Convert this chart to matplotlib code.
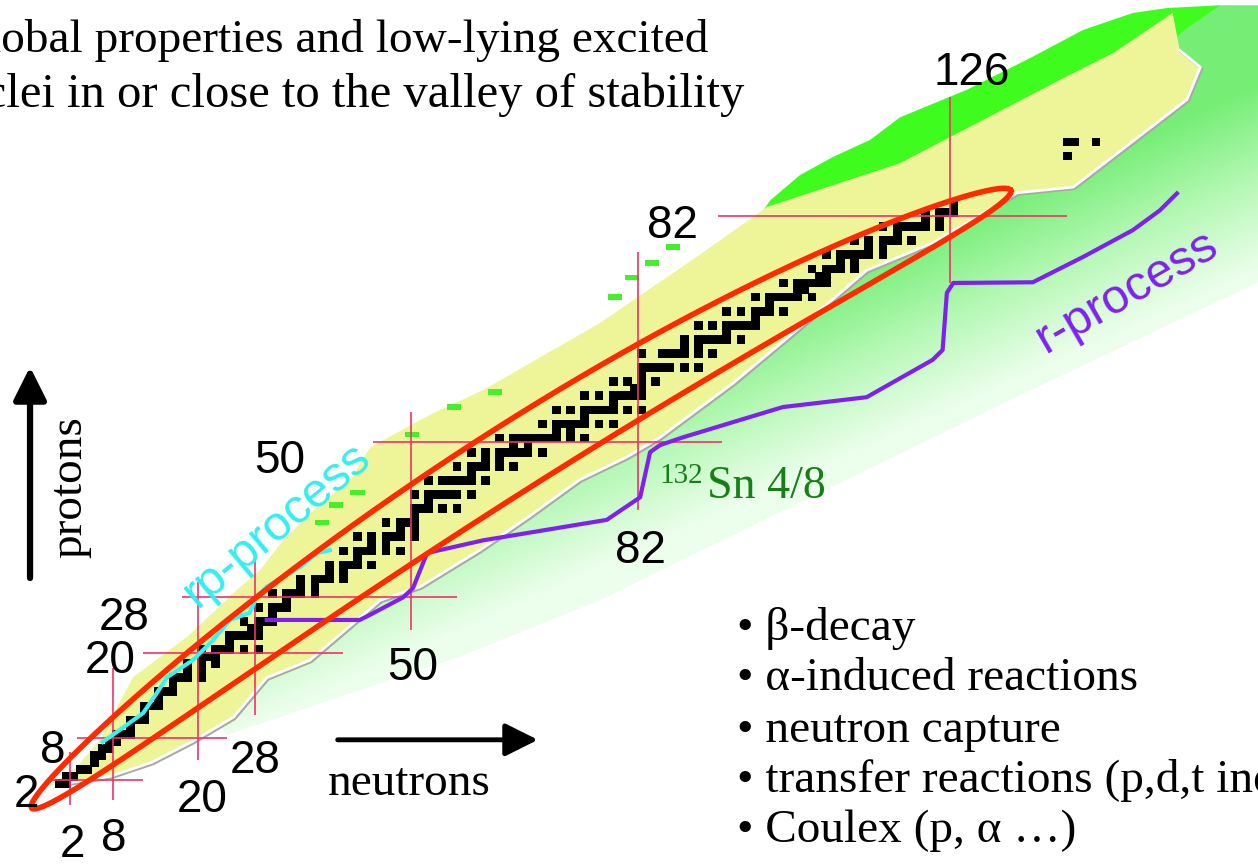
import numpy as np
import matplotlib
matplotlib.use('Agg')
import matplotlib.pyplot as plt
from matplotlib.colors import LinearSegmentedColormap
from matplotlib.patches import Polygon
from matplotlib.transforms import offset_copy

# stable (and primordial long-lived) nuclides: proton number -> mass numbers
stable_A = {
    1: [1, 2], 2: [3, 4], 3: [6, 7], 4: [9], 5: [10, 11], 6: [12, 13], 7: [14, 15],
    8: [16, 17, 18], 9: [19], 10: [20, 21, 22], 11: [23], 12: [24, 25, 26], 13: [27],
    14: [28, 29, 30], 15: [31], 16: [32, 33, 34, 36], 17: [35, 37], 18: [36, 38, 40],
    19: [39, 40, 41], 20: [40, 42, 43, 44, 46, 48], 21: [45], 22: [46, 47, 48, 49, 50],
    23: [50, 51], 24: [50, 52, 53, 54], 25: [55], 26: [54, 56, 57, 58], 27: [59],
    28: [58, 60, 61, 62, 64], 29: [63, 65], 30: [64, 66, 67, 68, 70], 31: [69, 71],
    32: [70, 72, 73, 74, 76], 33: [75], 34: [74, 76, 77, 78, 80, 82], 35: [79, 81],
    36: [78, 80, 82, 83, 84, 86], 37: [85, 87], 38: [84, 86, 87, 88], 39: [89],
    40: [90, 91, 92, 94, 96], 41: [93], 42: [92, 94, 95, 96, 97, 98, 100],
    44: [96, 98, 99, 100, 101, 102, 104], 45: [103], 46: [102, 104, 105, 106, 108, 110],
    47: [107, 109], 48: [106, 108, 110, 111, 112, 113, 114, 116], 49: [113, 115],
    50: [112, 114, 115, 116, 117, 118, 119, 120, 122, 124], 51: [121, 123],
    52: [120, 122, 123, 124, 125, 126, 128, 130], 53: [127],
    54: [124, 126, 128, 129, 130, 131, 132, 134, 136], 55: [133],
    56: [130, 132, 134, 135, 136, 137, 138], 57: [138, 139], 58: [136, 138, 140, 142],
    59: [141], 60: [142, 143, 144, 145, 146, 148, 150], 62: [144, 147, 148, 149, 150, 152, 154],
    63: [151, 153], 64: [152, 154, 155, 156, 157, 158, 160], 65: [159],
    66: [156, 158, 160, 161, 162, 163, 164], 67: [165], 68: [162, 164, 166, 167, 168, 170],
    69: [169], 70: [168, 170, 171, 172, 173, 174, 176], 71: [175, 176],
    72: [174, 176, 177, 178, 179, 180], 73: [180, 181], 74: [180, 182, 183, 184, 186],
    75: [185, 187], 76: [184, 186, 187, 188, 189, 190, 192], 77: [191, 193],
    78: [190, 192, 194, 195, 196, 198], 79: [197], 80: [196, 198, 199, 200, 201, 202, 204],
    81: [203, 205], 82: [204, 206, 207, 208], 83: [209], 90: [232], 92: [234, 235, 238],
}

# magic numbers and the extent of their guide lines
magic_N = [2, 8, 20, 28, 50, 82, 126]
magic_N_zlo = [-1.5, -0.8, 4.8, 11.2, 23.3, 40.3, 72.5]
magic_N_zhi = [6.0, 17.9, 30.1, 33.5, 54.2, 76.9, 98.9]
magic_Z = [2, 8, 20, 28, 50, 82]
magic_Z_nlo = [-0.8, 3.0, 12.3, 17.8, 44.7, 93.3]
magic_Z_nhi = [12.3, 24.1, 40.4, 56.5, 93.8, 142.4]

magic_text = ['126', '82', '50', '28', '20', '8', '2', '2', '8', '20', '28', '50', '82']
magic_text_N = [129.0, 86.8, 31.6, 9.6, 7.6, -0.5, -4.2, 2.3, 8.1, 20.6, 28.1, 50.2, 82.4]
magic_text_Z = [100.6, 78.9, 45.5, 23.3, 17.2, 4.4, -1.8, -8.9, -8.1, -2.5, 3.0, 16.2, 32.8]

# known nuclei (yellow band) edges
top_N = [-0.8, 3.0, 6.2, 10.9, 18.5, 25.0, 28.8, 32.0, 36.8, 41.4, 44.3, 53.1, 60.2,
         76.6, 90.7, 100.2, 118.9, 141.4, 148.9, 157.3]
top_Z = [1.3, 3.9, 7.7, 16.6, 22.3, 28.5, 31.8, 36.0, 40.7, 44.5, 49.2, 54.0, 57.3,
         66.8, 76.5, 83.3, 89.5, 101.3, 105.1, 110.8]
bot_N = [-0.1, 7.6, 13.5, 19.3, 25.0, 29.7, 35.8, 45.7, 51.3, 59.7, 66.4, 73.8, 80.4,
         85.1, 95.4, 104.8, 114.2, 123.5, 128.3, 135.4, 143.3, 151.3, 159.3, 161.2, 158.3]
bot_Z = [1.3, 2.5, 4.5, 7.5, 10.9, 16.5, 19.0, 27.5, 29.4, 34.6, 39.2, 44.6, 47.8,
         50.6, 58.3, 66.2, 74.3, 78.2, 81.0, 85.3, 86.1, 92.3, 98.5, 103.1, 105.5]

# isolated proton-rich cells beyond the band edge
speck_N = [36.5, 38.5, 41.5, 49.2, 55.1, 60.9, 77.8, 80.2, 83.0, 85.9]
speck_Z = [38.1, 40.6, 42.4, 50.6, 54.5, 56.6, 70.1, 72.9, 74.9, 77.2]

# predicted nuclei (green) regions
green_N = [24.1, 22.4, 27.4, 76.6, 100.2, 157.9, 164.0, 175, 175, 169.3, 134.4, 76.6, 56.9]
green_Z = [8.4, 10.5, 21.9, 58.7, 82.1, 109.8, 111.9, 111.9, 75.3, 72.6, 55.9, 27.5, 19.5]
bright_N = [99.2, 100.6, 104.8, 109.5, 114.7, 118.9, 128.3, 137.6, 144.7, 151.7, 156.5,
            164.0, 159.0, 147.1, 118.9, 99.2]
bright_Z = [82.1, 84.2, 87.8, 90.4, 92.8, 96.0, 99.9, 104.6, 108.4, 110.8, 111.5,
            111.9, 108.4, 98.4, 84.3, 81.4]

# process paths
r_N = [29.7, 42.8, 44.2, 48.9, 50.3, 52.3, 60.2, 77.6, 82.3, 83.7, 85.1, 88.3, 102.4,
       114.2, 123.5, 124.9, 125.5, 126.4, 137.6, 144.7, 151.7, 155.5, 157.9]
r_Z = [24.7, 24.7, 25.4, 27.9, 29.2, 34.2, 36.0, 38.9, 42.1, 48.5, 49.5, 50.6, 54.9,
       56.3, 61.6, 63.0, 71.1, 72.5, 72.6, 76.2, 80.0, 82.8, 85.2]
rp_N = [6.6, 9.0, 12.3, 14.2, 15.7, 19.3, 22.1, 24.5, 27.3, 28.3, 29.7, 32.0, 34.4, 36.8, 38.6]
rp_Z = [7.4, 9.1, 11.5, 14.3, 16.6, 19.0, 21.8, 24.7, 25.7, 27.9, 29.4, 30.8, 32.2, 34.2, 34.6]

# red loop around the valley of stability: centre line
loop_N = [-3.4, 45.7, 76.7, 125.9, 134.5]
loop_Z = [-2.0, 35.3, 55.3, 81.6, 85.7]

bullets = ['\u2022 \u03b2-decay', '\u2022 \u03b1-induced reactions', '\u2022 neutron capture',
           '\u2022 transfer reactions (p,d,t induced)', '\u2022 Coulex (p, \u03b1 \u2026)']
bullet_Z = [21.9, 14.8, 7.4, 0.3, -6.8]

SERIF = 'Liberation Serif'
SANS = 'Liberation Sans'

fig = plt.figure(figsize=(12.58, 8.66), dpi=100)
ax = fig.add_axes([0, 0, 1, 1])

# green gradient region
gN, gZ = np.meshgrid(np.linspace(-8, 175, 500), np.linspace(-11, 113, 400))
depth = np.clip((0.91 * gZ - 0.413 * gN + 2.3) / 24.0, 0, 1)
fade = LinearSegmentedColormap.from_list('fade', ['#ecfeec', '#b4f8b4', '#76ee76'])
im = ax.imshow(depth, extent=(-8, 175, -11, 113), origin='lower', cmap=fade,
               vmin=0, vmax=1, aspect='auto', interpolation='bilinear', zorder=1)
clip = Polygon(np.column_stack([green_N, green_Z]), closed=True,
               facecolor='none', edgecolor='none')
ax.add_patch(clip)
im.set_clip_path(clip)

ax.fill(bright_N, bright_Z, color='#3ffc1f', lw=0, zorder=2)

# yellow band of known nuclei
band_N = top_N + bot_N[::-1]
band_Z = top_Z + bot_Z[::-1]
ax.fill(band_N, band_Z, color='#eef598', lw=0, zorder=3)
shadow = offset_copy(ax.transData, fig=fig, x=1.5, y=-1.5, units='dots')
ax.plot(bot_N, bot_Z, color='#a8a8a8', lw=2.0, transform=shadow, zorder=3.2)
ax.plot(bot_N, bot_Z, color='white', lw=2.0, zorder=3.3)
ax.bar(speck_N, 0.8, width=2, bottom=speck_Z, align='edge', color='#44f02a', lw=0, zorder=3.4)

# stable nuclei
stable_N, stable_Z = [], []
for z, masses in stable_A.items():
    for a in masses:
        stable_N.append(a - z)
        stable_Z.append(z)
stable_N = np.array(stable_N, dtype=float)
stable_Z = np.array(stable_Z, dtype=float)
ax.bar(stable_N - 0.12, 1.24, width=1.24, bottom=stable_Z - 0.12, align='edge',
       color='black', lw=0, zorder=4)

# magic number lines
ax.vlines(magic_N, magic_N_zlo, magic_N_zhi, color='#f5306a', lw=1.2, zorder=5)
ax.hlines(magic_Z, magic_Z_nlo, magic_Z_nhi, color='#f5306a', lw=1.2, zorder=5)

ax.plot(r_N, r_Z, color='#8020f0', lw=3.0, solid_joinstyle='round', zorder=6)
ax.plot(rp_N, rp_Z, color='#38f2f2', lw=3.0, solid_joinstyle='round', zorder=6)

# curved loop
coef = np.polyfit(loop_N, loop_Z, 2)
dcoef = np.polyder(coef)
th = np.linspace(0, 2 * np.pi, 600)
n_mid = (loop_N[0] + loop_N[-1]) / 2
n_half = (loop_N[-1] - loop_N[0]) / 2
nc = n_mid + n_half * np.cos(th)
zc = np.polyval(coef, nc)
sl = np.polyval(dcoef, nc)
norm = np.sqrt(1 + sl ** 2)
ax.plot(nc - sl / norm * 4.8 * np.sin(th), zc + 1 / norm * 4.8 * np.sin(th),
        color='#ff2a00', lw=4.0, zorder=7)

for t, n, z in zip(magic_text, magic_text_N, magic_text_Z):
    ax.text(n, z, t, fontsize=33, family=SANS, ha='center', va='baseline', zorder=8)

ax.text(31.2, 38.2, 'rp-process', fontsize=35, family=SANS, color='#33eef0',
        rotation=40, rotation_mode='anchor', ha='center', va='center', zorder=8)
ax.text(150.9, 71.3, 'r-process', fontsize=35, family=SANS, color='#8020f0',
        rotation=30, rotation_mode='anchor', ha='center', va='center', zorder=8)

ax.text(91.15, 44.1, '132', fontsize=21, family=SERIF, color='#168016', ha='right', va='baseline', zorder=8)
ax.text(91.7, 42.0, 'Sn 4/8', fontsize=33, family=SERIF, color='#168016', ha='left', va='baseline', zorder=8)

# axis arrows
ax.annotate('', xy=(-3.63, 60.6), xytext=(-3.63, 30.65),
            arrowprops=dict(arrowstyle='-|>,head_length=1.0,head_width=0.5', lw=4.5,
                            color='black', mutation_scale=20, shrinkA=0, shrinkB=0), zorder=8)
ax.annotate('', xy=(67.9, 7.7), xytext=(39.7, 7.7),
            arrowprops=dict(arrowstyle='-|>,head_length=1.0,head_width=0.5', lw=3.5,
                            color='black', mutation_scale=20, shrinkA=0, shrinkB=0), zorder=8)
ax.text(2.0, 43.6, 'protons', fontsize=34, family=SERIF, rotation=90, ha='center', va='center', zorder=8)
ax.text(38.3, -0.1, 'neutrons', fontsize=34, family=SERIF, ha='left', va='baseline', zorder=8)

ax.text(91.9, 105.2, 'Global properties and low-lying excited', fontsize=34, family=SERIF,
        ha='right', va='baseline', zorder=8)
ax.text(97.0, 97.5, 'nuclei in or close to the valley of stability', fontsize=35, family=SERIF,
        ha='right', va='baseline', zorder=8)

for s, z in zip(bullets, bullet_Z):
    ax.text(95.9, z, s, fontsize=34, family=SERIF, ha='left', va='baseline', zorder=8)

ax.set_xlim(-7.86, 169.32)
ax.set_ylim(-10.2, 112.64)
ax.axis('off')

fig.savefig('out.png', dpi=100, facecolor='white')
